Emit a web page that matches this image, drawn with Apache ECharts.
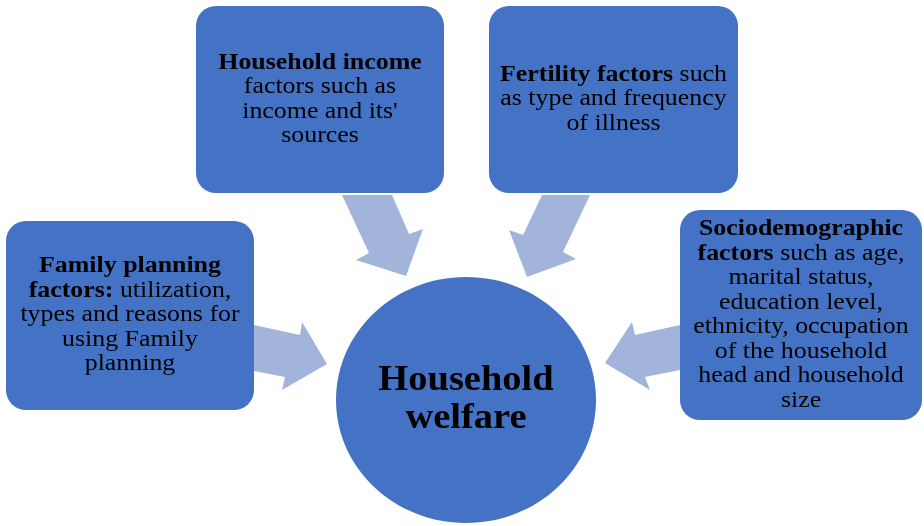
<!DOCTYPE html>
<html>
<head>
	<meta charset="utf-8" />
	<title>Household welfare</title>
	<style type="text/css">
		html, body { margin: 0; padding: 0; background: #fff; }
		#main { width: 924px; height: 526px; }
	</style>
	<script src="https://cdn.jsdelivr.net/npm/echarts@6/dist/echarts.min.js"></script>
</head>
<body>
	<div id="main"></div>
	<script type="text/javascript">

		// box texts ({b|...} = bold part)
		const boxTexts = [
			'{b|Family planning}\n{b|factors:} utilization,\ntypes and reasons for\nusing Family\nplanning',
			'{b|Household income}\nfactors such as\nincome and its\'\nsources',
			'{b|Fertility factors} such\nas type and frequency\nof illness',
			'{b|Sociodemographic}\n{b|factors} such as age,\nmarital status,\neducation level,\nethnicity, occupation\nof the household\nhead and household\nsize'
		];
		const centerText = 'Household\nwelfare';

		// layout, in pixel units of the hidden axes: [x0, y0, x1, y1]
		const boxLayout = [
			[6, 221, 254, 410],
			[196, 6, 444, 193],
			[489, 6, 738, 193],
			[680, 210, 922, 420]
		];
		const circleLayout = [466, 400, 130, 123];
		const arrowLayout = [
			[[342, 195], [392, 195], [409, 234], [423, 229], [406, 276], [356, 260], [369, 253]],
			[[542, 195], [590, 195], [563, 252], [576, 259], [527, 277], [509, 230], [523, 235]],
			[[254, 325], [300, 335], [302, 322], [327, 364], [282, 390], [285, 377], [254, 371]],
			[[680, 325], [635, 335], [632, 322], [605, 363], [650, 390], [645, 377], [680, 370]]
		];

		const boxColor = '#4472C4';
		const arrowColor = '#A3B4DB';
		const serif = '"Liberation Serif", "Times New Roman", serif';

		const options = {
			animation: false,
			grid: { left: 0, right: 0, top: 0, bottom: 0 },
			xAxis: { type: 'value', min: 0, max: 924, show: false },
			yAxis: { type: 'value', min: 0, max: 526, inverse: true, show: false },
			series: [
				{
					name: 'arrows',
					type: 'custom',
					data: arrowLayout.map((a, i) => [a[0][0], a[0][1], i]),
					renderItem: (params, api) => {
						const pts = arrowLayout[params.dataIndex].map((p) => api.coord(p));
						return {
							type: 'polygon',
							shape: { points: pts },
							style: { fill: arrowColor }
						};
					}
				},
				{
					name: 'boxes',
					type: 'custom',
					data: boxLayout.map((b, i) => [b[0], b[1], i]),
					renderItem: (params, api) => {
						const b = boxLayout[params.dataIndex];
						const p0 = api.coord([b[0], b[1]]);
						const p1 = api.coord([b[2], b[3]]);
						return {
							type: 'group',
							children: [
								{
									type: 'rect',
									shape: { x: p0[0], y: p0[1], width: p1[0] - p0[0], height: p1[1] - p0[1], r: 20 },
									style: { fill: boxColor }
								},
								{
									type: 'text',
									x: (p0[0] + p1[0]) / 2,
									y: (p0[1] + p1[1]) / 2,
									scaleX: 1.15,
									style: {
										x: 0,
										y: 0,
										text: boxTexts[params.dataIndex],
										align: 'center',
										verticalAlign: 'middle',
										fill: '#000',
										fontFamily: serif,
										fontSize: 22.5,
										lineHeight: 24.5,
										rich: {
											b: { fontFamily: serif, fontSize: 22.5, fontWeight: 'bold', lineHeight: 24.5, fill: '#000' }
										}
									}
								}
							]
						};
					}
				},
				{
					name: 'center',
					type: 'custom',
					data: [[circleLayout[0], circleLayout[1]]],
					renderItem: (params, api) => {
						const c = api.coord([circleLayout[0], circleLayout[1]]);
						return {
							type: 'group',
							children: [
								{
									type: 'ellipse',
									shape: { cx: c[0], cy: c[1], rx: circleLayout[2], ry: circleLayout[3] },
									style: { fill: boxColor }
								},
								{
									type: 'text',
									x: c[0],
									y: c[1],
									scaleX: 1.1,
									style: {
										x: 0,
										y: 0,
										text: centerText,
										align: 'center',
										verticalAlign: 'middle',
										fill: '#000',
										fontFamily: serif,
										fontSize: 35,
										fontWeight: 'bold',
										lineHeight: 38
									}
								}
							]
						};
					}
				}
			]
		};
		const myChart = echarts.init(document.getElementById('main'));
		myChart.setOption(options);

	</script>
</body>
</html>
